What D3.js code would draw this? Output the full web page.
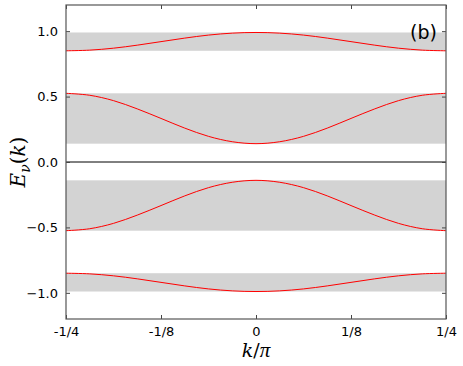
<!DOCTYPE html>
<html>
<head>
<meta charset="utf-8">
<script src="https://cdn.jsdelivr.net/npm/d3@7"></script>
<style>
  body { margin: 0; background: #fff; }
</style>
</head>
<body>
<div class="chart"></div>
<script>
var width = 463;
var height = 366;
var margin = {left: 66, right: 17, top: 5, bottom: 47};

// k values (units of pi)
var kVals = [-0.25, -0.21875, -0.1875, -0.15625, -0.125, -0.09375, -0.0625, -0.03125, 0,
             0.03125, 0.0625, 0.09375, 0.125, 0.15625, 0.1875, 0.21875, 0.25];

// band energies
var band1 = [0.85, 0.855, 0.87, 0.893, 0.92, 0.947, 0.97, 0.985, 0.99,
             0.985, 0.97, 0.947, 0.92, 0.893, 0.87, 0.855, 0.85];
var band2 = [0.525, 0.51, 0.469, 0.406, 0.333, 0.259, 0.196, 0.155, 0.14,
             0.155, 0.196, 0.259, 0.333, 0.406, 0.469, 0.51, 0.525];
var band3 = [-0.525, -0.51, -0.469, -0.406, -0.333, -0.259, -0.196, -0.155, -0.14,
             -0.155, -0.196, -0.259, -0.333, -0.406, -0.469, -0.51, -0.525];
var band4 = [-0.85, -0.855, -0.87, -0.893, -0.92, -0.947, -0.97, -0.985, -0.99,
             -0.985, -0.97, -0.947, -0.92, -0.893, -0.87, -0.855, -0.85];

// shaded band ranges [lo, hi]
var bandRanges = [[0.85, 0.99], [0.14, 0.525], [-0.525, -0.14], [-0.99, -0.85]];

var xTicks = [-0.25, -0.125, 0, 0.125, 0.25];
var xTickLabels = ['-1/4', '-1/8', '0', '1/8', '1/4'];
var yTicks = [-1.0, -0.5, 0.0, 0.5, 1.0];

var x = d3.scaleLinear().domain([-0.25, 0.25]).range([margin.left, width - margin.right]);
var y = d3.scaleLinear().domain([-1.2, 1.2]).range([height - margin.bottom, margin.top]);

var svg = d3.select('.chart').append('svg')
    .attr('width', width)
    .attr('height', height);

// gray bands
svg.selectAll('rect.band')
    .data(bandRanges)
    .enter()
    .append('rect')
        .attr('class', 'band')
        .attr('x', x(-0.25))
        .attr('width', x(0.25) - x(-0.25))
        .attr('y', function (d) { return y(d[1]); })
        .attr('height', function (d) { return y(d[0]) - y(d[1]); })
        .attr('fill', '#d3d3d3');

// zero line
svg.append('line')
    .attr('x1', x(-0.25)).attr('x2', x(0.25))
    .attr('y1', y(0)).attr('y2', y(0))
    .attr('stroke', '#000')
    .attr('stroke-width', 1);

var line = d3.line()
    .x(function (d, i) { return x(kVals[i]); })
    .y(function (d) { return y(d); })
    .curve(d3.curveCatmullRom);

svg.selectAll('path.bandline')
    .data([band1, band2, band3, band4])
    .enter()
    .append('path')
        .attr('class', 'bandline')
        .attr('d', line)
        .attr('fill', 'none')
        .attr('stroke', '#ff0000')
        .attr('stroke-width', 1);

// axes (ticks inward, on all four sides)
var xAxisB = d3.axisBottom(x).tickValues(xTicks)
    .tickFormat(function (d, i) { return xTickLabels[i]; })
    .tickSizeInner(-4).tickSizeOuter(0).tickPadding(8);
var xAxisT = d3.axisTop(x).tickValues(xTicks).tickFormat('').tickSizeInner(-4).tickSizeOuter(0);
var yAxisL = d3.axisLeft(y).tickValues(yTicks)
    .tickFormat(function (d) { return d3.format('.1f')(d).replace('-', '\u2212'); })
    .tickSizeInner(-4).tickSizeOuter(0).tickPadding(8);
var yAxisR = d3.axisRight(y).tickValues(yTicks).tickFormat('').tickSizeInner(-4).tickSizeOuter(0);

function styleAxis(g) {
    g.select('.domain').remove();
    g.selectAll('.tick line').attr('stroke', '#444');
    g.selectAll('.tick text')
        .attr('fill', '#000')
        .attr('font-family', 'DejaVu Sans, sans-serif')
        .attr('font-size', 13);
}

svg.append('g').attr('transform', 'translate(0,' + y(-1.2) + ')').call(xAxisB).call(styleAxis);
svg.append('g').attr('transform', 'translate(0,' + y(1.2) + ')').call(xAxisT).call(styleAxis);
svg.append('g').attr('transform', 'translate(' + x(-0.25) + ',0)').call(yAxisL).call(styleAxis);
svg.append('g').attr('transform', 'translate(' + x(0.25) + ',0)').call(yAxisR).call(styleAxis);

// frame
svg.append('rect')
    .attr('x', x(-0.25))
    .attr('y', y(1.2))
    .attr('width', x(0.25) - x(-0.25))
    .attr('height', y(-1.2) - y(1.2))
    .attr('fill', 'none')
    .attr('stroke', '#555')
    .attr('stroke-width', 1.2);

// axis labels
var xl = svg.append('text')
    .attr('x', x(0))
    .attr('y', 357)
    .attr('text-anchor', 'middle')
    .attr('font-family', 'DejaVu Serif, serif')
    .attr('font-size', 19);
xl.append('tspan').attr('font-style', 'italic').text('k');
xl.append('tspan').text('/');
xl.append('tspan').attr('font-family', 'Liberation Serif, serif').attr('font-style', 'italic')
    .attr('font-size', 21).text('\u03c0');

var yl = svg.append('text')
    .attr('transform', 'translate(25,' + y(0) + ') rotate(-90)')
    .attr('text-anchor', 'middle')
    .attr('font-family', 'DejaVu Serif, serif')
    .attr('font-size', 20);
yl.append('tspan').attr('font-style', 'italic').text('E');
yl.append('tspan').attr('font-style', 'italic').attr('font-size', 14).attr('dy', 5).text('\u03bd');
yl.append('tspan').attr('dy', -5).text('(');
yl.append('tspan').attr('font-style', 'italic').text('k');
yl.append('tspan').text(')');

// panel label
svg.append('text')
    .attr('x', 437)
    .attr('y', 39)
    .attr('text-anchor', 'end')
    .attr('font-family', 'DejaVu Sans, sans-serif')
    .attr('font-size', 19)
    .attr('fill', '#000')
    .text('(b)');
</script>
</body>
</html>
